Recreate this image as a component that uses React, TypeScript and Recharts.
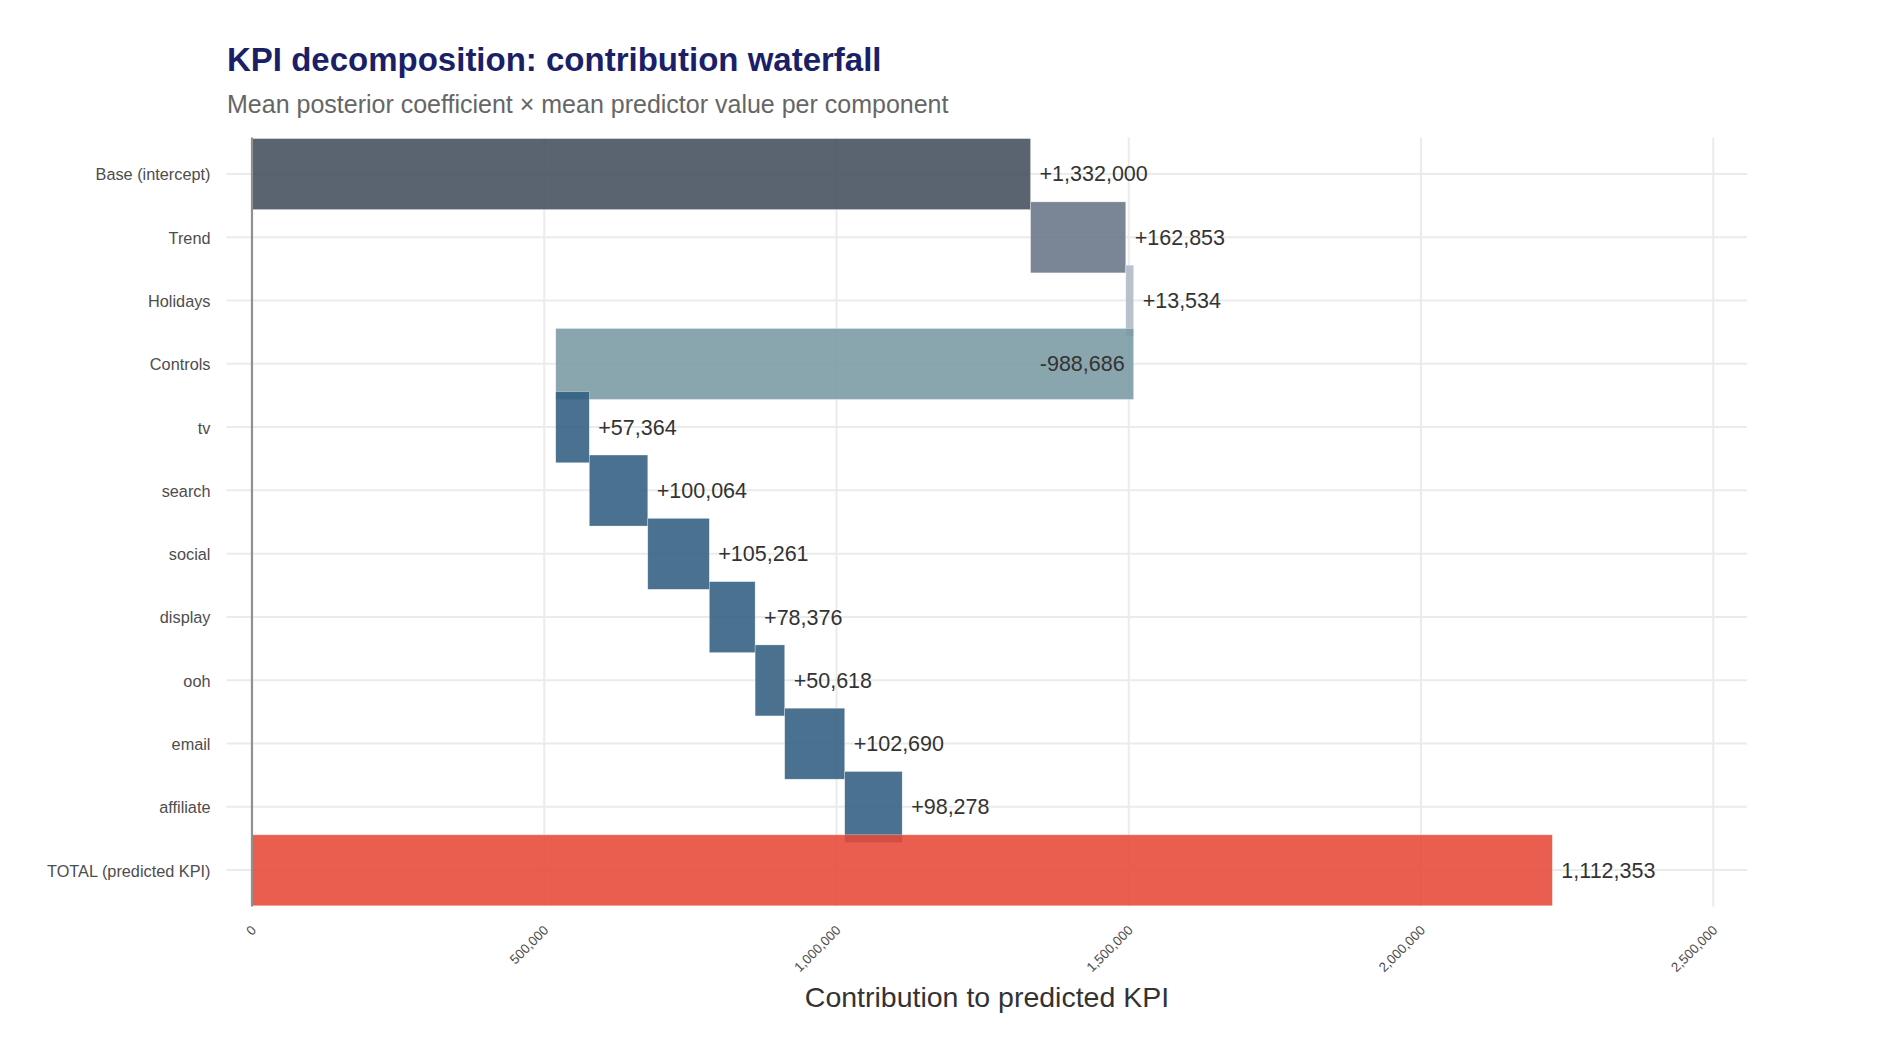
import React from 'react';
import { ComposedChart, Bar, XAxis, YAxis, CartesianGrid, ReferenceLine } from 'recharts';

// ---------- data ----------
const categories = [
  'Base (intercept)',
  'Trend',
  'Holidays',
  'Controls',
  'tv',
  'search',
  'social',
  'display',
  'ooh',
  'email',
  'affiliate',
  'TOTAL (predicted KPI)',
];
const contributions = [1332000, 162853, 13534, -988686, 57364, 100064, 105261, 78376, 50618, 102690, 98278];
const groups = ['base', 'trend', 'holidays', 'controls', 'media', 'media', 'media', 'media', 'media', 'media', 'media', 'total'];
const totalValue = 1112353;
// extent of the TOTAL bar as it is drawn in the reference
const totalBarExtent = 2224706;
const xTicks = [0, 500000, 1000000, 1500000, 2000000, 2500000];

// ---------- styles ----------
const FONT = '"Liberation Sans", Arial, Helvetica, sans-serif';
const groupColors: Record<string, { fill: string; opacity: number }> = {
  base: { fill: '#434e5c', opacity: 0.88 },
  trend: { fill: '#687488', opacity: 0.88 },
  holidays: { fill: '#aeb8c5', opacity: 0.88 },
  controls: { fill: '#7999a3', opacity: 0.88 },
  media: { fill: '#315d81', opacity: 0.88 },
  total: { fill: '#e74838', opacity: 0.88 },
};
const BAR_H = 71;
const W = 1889;
const H = 1062;

const fmt = (v: number) => String(Math.round(Math.abs(v))).replace(/\B(?=(\d{3})+(?!\d))/g, ',');

// ---------- table for the chart ----------
let running = 0;
const data = categories.map((name, i) => {
  if (i < contributions.length) {
    const v = contributions[i];
    const start = running;
    const end = running + v;
    running = end;
    return {
      idx: i + 1,
      name,
      range: [Math.min(start, end), Math.max(start, end)],
      label: (v >= 0 ? '+' : '-') + fmt(v),
      negative: v < 0,
      group: groups[i],
    };
  }
  return {
    idx: i + 1,
    name,
    range: [0, totalBarExtent],
    label: fmt(totalValue),
    negative: false,
    group: groups[i],
  };
});
const yTicks = categories.map((_, i) => i + 1);

const WaterfallRect = (props: any) => {
  const { x, y, width, height } = props;
  const row = props.payload ?? props;
  const cy = y + height / 2;
  const c = groupColors[row.group];
  const right = x + width;
  return (
    <g>
      <rect
        x={x}
        y={cy - BAR_H / 2}
        width={width}
        height={BAR_H}
        fill={c.fill}
        fillOpacity={c.opacity}
        stroke="#ffffff"
        strokeWidth={0.6}
        strokeOpacity={0.5}
      />
      <text
        x={row.negative ? right - 9 : right + 9}
        y={cy + 7.4}
        textAnchor={row.negative ? 'end' : 'start'}
        fontSize={21.5}
        fill="#333333"
        fontFamily={FONT}
      >
        {row.label}
      </text>
    </g>
  );
};

const YTick = (props: any) => {
  const { x, y, payload } = props;
  return (
    <text x={x} y={y} dy="0.4em" textAnchor="end" fontSize={16.3} fill="#4d4d4d" fontFamily={FONT}>
      {categories[payload.value - 1]}
    </text>
  );
};

const XTick = (props: any) => {
  const { x, y, payload } = props;
  return (
    <text
      transform={`translate(${x + 5},${y + 24.5}) rotate(-45)`}
      textAnchor="end"
      fontSize={13.3}
      fill="#4d4d4d"
      fontFamily={FONT}
    >
      {fmt(payload.value)}
    </text>
  );
};

export default function App() {
  return (
    <div style={{ position: 'absolute', left: 0, top: 0, width: W, height: H, background: '#ffffff' }}>
      <ComposedChart
        width={W}
        height={H}
        data={data}
        layout="vertical"
        margin={{ top: 137.5, right: 142, bottom: 95.5, left: 26.5 }}
      >
        <CartesianGrid stroke="#ebebeb" strokeWidth={2} syncWithTicks />
        <XAxis
          type="number"
          domain={[-43600, 2557700]}
          allowDataOverflow
          ticks={xTicks}
          interval={0}
          height={60}
          tickSize={0}
          tickMargin={0}
          axisLine={false}
          tickLine={false}
          tick={<XTick />}
        />
        <YAxis
          type="number"
          dataKey="idx"
          domain={[0.425, 12.575]}
          allowDataOverflow
          ticks={yTicks}
          interval={0}
          width={200}
          tickSize={0}
          tickMargin={16}
          axisLine={false}
          tickLine={false}
          tick={<YTick />}
        />
        <ReferenceLine x={0} stroke="#909090" strokeWidth={2.2} />
        <Bar dataKey="range" isAnimationActive={false} shape={<WaterfallRect />} />
      </ComposedChart>
      <svg
        width={W}
        height={H}
        style={{ position: 'absolute', left: 0, top: 0, pointerEvents: 'none' }}
      >
        <text x={227} y={70.7} fontSize={33} fontWeight="bold" fill="#1b1f68" fontFamily={FONT}>
          KPI decomposition: contribution waterfall
        </text>
        <text x={227} y={113.3} fontSize={25} fill="#666666" fontFamily={FONT}>
          Mean posterior coefficient × mean predictor value per component
        </text>
        <text x={987} y={1007} fontSize={28.5} fill="#333333" textAnchor="middle" fontFamily={FONT}>
          Contribution to predicted KPI
        </text>
      </svg>
    </div>
  );
}
